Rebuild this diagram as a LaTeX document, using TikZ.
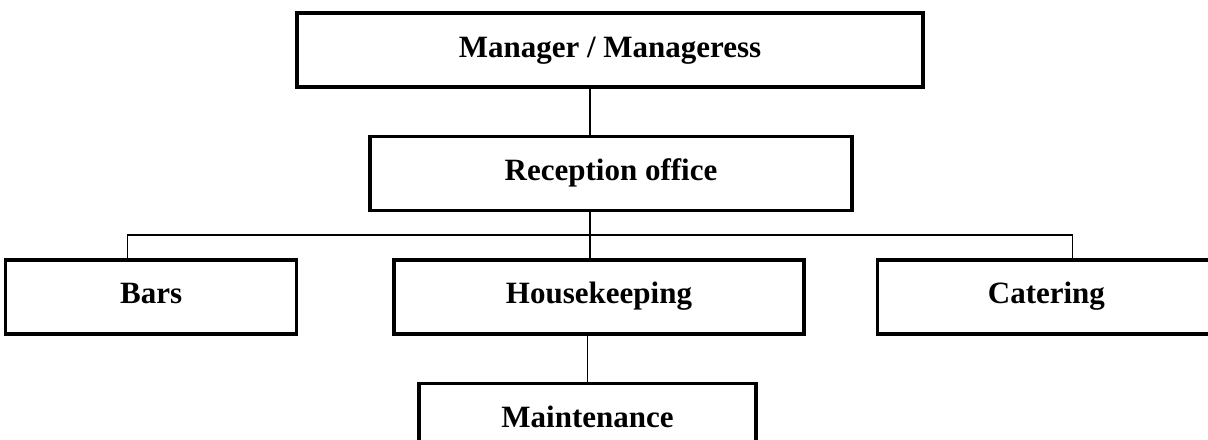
\documentclass[tikz,border=0pt]{standalone}
\usepackage{fontspec}
\setmainfont{Liberation Serif}
\usetikzlibrary{positioning}

\tikzset{
    unit/.style={draw, line width=1.7pt, minimum height=37pt, inner sep=0pt, text height=10.5pt, text depth=3.5pt, font=\fontsize{15.5}{18}\selectfont\bfseries},
    link/.style={line width=0.85pt}
}

\begin{document}
\begin{tikzpicture}
    \useasboundingbox (0,0) rectangle (604pt,-219.5pt);
    \node (man) [unit, minimum width=313pt] at (305pt,-25pt) {Manager / Manageress};
    \node (rec) [unit, minimum width=241pt, below=23pt of man, xshift=0.5pt] {Reception office};
    \node (hk) [unit, minimum width=205pt, below=23pt of rec, xshift=-6pt] {Housekeeping};
    \node (bars) [unit, minimum width=145.5pt, left=47pt of hk] {Bars};
    \node (cat) [unit, minimum width=169pt, right=35pt of hk] {Catering};
    \node (maint) [unit, minimum width=168.5pt, below=23pt of hk, xshift=-5.75pt] {Maintenance};
    % Branch point under the reception office
    \draw [link] ([xshift=-10.5pt]rec.south) -- ++(0,-11.5pt) coordinate (bus);
    \draw [link] (man.south -| bus) -- (rec.north -| bus);
    % Bus line to the three departments
    \draw [link] ([xshift=-11.75pt]bars.north) |- ([xshift=13pt]cat.north |- bus) -- ([xshift=13pt]cat.north);
    \draw [link] (bus) -- (bus |- hk.north);
    \draw [link] (maint.north |- hk.south) -- (maint.north);
\end{tikzpicture}
\end{document}
